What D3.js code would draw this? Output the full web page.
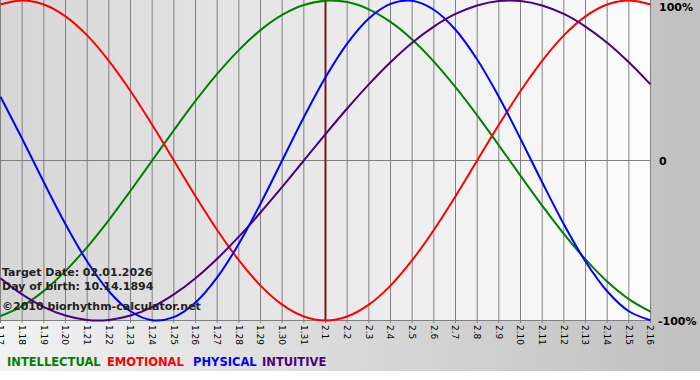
<!DOCTYPE html>
<html><head><meta charset="utf-8">
<script src="https://cdn.jsdelivr.net/npm/d3@7"></script>
<style>html,body{margin:0;padding:0;background:#fff;}svg{display:block;}</style>
</head><body>
<script>
const dayLabels = ["1.17","1.18","1.19","1.20","1.21","1.22","1.23","1.24","1.25","1.26","1.27","1.28","1.29","1.30","1.31",
  "2.1","2.2","2.3","2.4","2.5","2.6","2.7","2.8","2.9","2.10","2.11","2.12","2.13","2.14","2.15","2.16"];
const targetLabel = "2.1";
const intellectual = [-0.972,-0.910,-0.815,-0.690,-0.541,-0.372,-0.189,0,0.189,0.372,0.541,0.690,0.815,0.910,0.972,0.999,0.990,0.945,0.866,0.756,0.618,0.458,0.282,0.095,-0.095,-0.282,-0.458,-0.618,-0.756,-0.866,-0.945];
const emotional = [0.975,1,0.975,0.901,0.782,0.623,0.434,0.223,0,-0.223,-0.434,-0.623,-0.782,-0.901,-0.975,-1,-0.975,-0.901,-0.782,-0.623,-0.434,-0.223,0,0.223,0.434,0.623,0.782,0.901,0.975,1,0.975];
const physical = [0.398,0.136,-0.136,-0.398,-0.631,-0.817,-0.942,-0.998,-0.979,-0.888,-0.731,-0.520,-0.270,0,0.270,0.520,0.731,0.888,0.979,0.998,0.942,0.817,0.631,0.398,0.136,-0.136,-0.398,-0.631,-0.817,-0.942,-0.998];
const intuitive = [-0.736,-0.837,-0.916,-0.969,-0.997,-0.997,-0.969,-0.916,-0.837,-0.736,-0.614,-0.476,-0.325,-0.165,0,0.165,0.325,0.476,0.614,0.736,0.837,0.916,0.969,0.997,0.997,0.969,0.916,0.837,0.736,0.614,0.476];
const seriesNames = ["INTELLECTUAL","EMOTIONAL","PHYSICAL","INTUITIVE"];
const yTickValues = [1,0,-1];
const yTickLabels = ["100%","0","-100%"];
const infoLines = ["Target Date: 02.01.2026","Day of birth: 10.14.1894","\u00a92010 biorhythm-calculator.net"];

const colors = {INTELLECTUAL:"#008000",EMOTIONAL:"#ff0000",PHYSICAL:"#0000ff",INTUITIVE:"#4b0082"};
const seriesData = {INTELLECTUAL:intellectual,EMOTIONAL:emotional,PHYSICAL:physical,INTUITIVE:intuitive};

const W=700,H=380;
const svg=d3.select("body").append("svg").attr("width",W).attr("height",H);
const defs=svg.append("defs");
const og=defs.append("linearGradient").attr("id","outer").attr("x1","0").attr("x2","1").attr("y1","0").attr("y2","0");
og.append("stop").attr("offset","0").attr("stop-color","#f2f2f2");
og.append("stop").attr("offset","1").attr("stop-color","#c0c0c0");
const pg=defs.append("linearGradient").attr("id","plot").attr("x1","0").attr("x2","1").attr("y1","0").attr("y2","0");
pg.append("stop").attr("offset","0").attr("stop-color","#d6d6d6");
pg.append("stop").attr("offset","1").attr("stop-color","#fdfdfd");

svg.append("rect").attr("x",0).attr("y",0).attr("width",W).attr("height",371).attr("fill","url(#outer)");

const x=d3.scalePoint().domain(dayLabels).range([0.5,650.5]);
const y=d3.scaleLinear().domain([-1,1]).range([320.5,0.5]);

svg.append("rect").attr("x",0).attr("y",0).attr("width",650.5).attr("height",320.5).attr("fill","url(#plot)");

// vertical grid
svg.append("g").selectAll("line").data(dayLabels).join("line")
  .attr("x1",d=>x(d)).attr("x2",d=>x(d)).attr("y1",0).attr("y2",323)
  .attr("stroke","#808080").attr("stroke-width",1);
// horizontal lines
svg.append("g").selectAll("line").data([0,-1]).join("line")
  .attr("x1",0).attr("x2",651).attr("y1",d=>y(d)).attr("y2",d=>y(d))
  .attr("stroke","#808080").attr("stroke-width",1);

// target line
svg.append("line").attr("x1",x(targetLabel)).attr("x2",x(targetLabel)).attr("y1",0).attr("y2",320.5)
  .attr("stroke","#7a1a1a").attr("stroke-width",2);

// tick labels
svg.append("g").selectAll("text").data(dayLabels).join("text")
  .attr("transform",d=>`translate(${x(d)},325) rotate(90)`)
  .attr("dy","0.35em")
  .attr("font-family","DejaVu Sans, Verdana, sans-serif").attr("font-size",9)
  .attr("fill","#000").text(d=>d);

// y labels
svg.append("g").selectAll("text").data(yTickValues).join("text")
  .attr("x",(d,i)=>i===2?658:659).attr("y",d=>y(d)+4)
  .attr("dy",(d,i)=> i===0 ? 6 : 0)
  .attr("font-family","DejaVu Sans, Verdana, sans-serif").attr("font-size",11).attr("font-weight","bold")
  .attr("fill","#000").text((d,i)=>yTickLabels[i]);

// series lines
const line=d3.line().x((d,i)=>x(dayLabels[i])).y(d=>y(d)).curve(d3.curveCatmullRom);
const order=["INTELLECTUAL","EMOTIONAL","INTUITIVE","PHYSICAL"];
svg.append("g").selectAll("path").data(order).join("path")
  .attr("d",k=>line(seriesData[k])).attr("fill","none")
  .attr("stroke",k=>colors[k]).attr("stroke-width",2);

// info text
svg.append("g").selectAll("text").data(infoLines).join("text")
  .attr("x",2).attr("y",(d,i)=>[276,290,310][i])
  .attr("font-family","DejaVu Sans, Verdana, sans-serif").attr("font-size",11).attr("font-weight","bold")
  .attr("fill","#222").text(d=>d);

// legend
const legendX=[7,107,193,262];
svg.append("g").selectAll("text").data(seriesNames).join("text")
  .attr("x",(k,i)=>legendX[i]).attr("y",366)
  .attr("font-family","DejaVu Sans, Verdana, sans-serif").attr("font-size",11.5).attr("font-weight","bold")
  .attr("fill",k=>colors[k]).text(k=>k);
</script>
</body></html>
